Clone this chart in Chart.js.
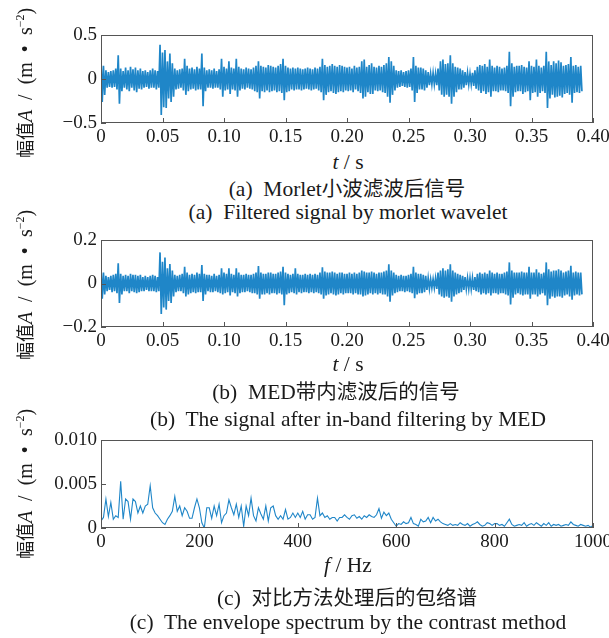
<!DOCTYPE html>
<html>
<head>
<meta charset="utf-8">
<script src="https://cdn.jsdelivr.net/npm/chart.js@4/dist/chart.umd.min.js"></script>
<style>
  body { margin: 0; background: #fff; }
  #page { position: relative; width: 609px; height: 638px; overflow: hidden; background: #fff; }
  canvas { position: absolute; left: 0; }
  .txt {
    position: absolute; white-space: nowrap; color: #1a1a1a;
    font-family: 'Liberation Serif', 'Noto Sans CJK SC', serif;
    font-size: 21.5px; line-height: 1;
    transform: translate(-50%, -50%);
  }
  .cjk { font-family: 'Noto Sans CJK SC', sans-serif; font-size: 20.5px; }
  .ylab {
    position: absolute; white-space: nowrap; color: #1a1a1a;
    font-family: 'Liberation Serif', 'Noto Sans CJK SC', serif;
    font-size: 20px; line-height: 1; left: 24px;
    transform: translate(-50%, -50%) rotate(-90deg);
  }
  .ylab .cjk { font-size: 18px; }
  .ylab sup { font-size: 12px; vertical-align: 8px; }
</style>
</head>
<body>
<div id="page">
  <canvas id="chartA" width="609" height="150" style="top:0px"></canvas>
  <canvas id="chartB" width="609" height="124" style="top:230px"></canvas>
  <canvas id="chartC" width="609" height="125" style="top:430px"></canvas>

  <div class="ylab" style="top:83px"><span class="cjk">幅值</span><i>A</i>&ensp;/&ensp;(m&ensp;•&ensp;s<sup>−2</sup>)</div>
  <div class="ylab" style="top:285px"><span class="cjk">幅值</span><i>A</i>&ensp;/&ensp;(m&ensp;•&ensp;s<sup>−2</sup>)</div>
  <div class="ylab" style="top:484px"><span class="cjk">幅值</span><i>A</i>&ensp;/&ensp;(m&ensp;•&ensp;s<sup>−2</sup>)</div>

  <div class="txt" style="left:348px;top:163px"><i>t</i> / s</div>
  <div class="txt" style="left:347px;top:189px">(a)&nbsp; Morlet<span class="cjk">小波滤波后信号</span></div>
  <div class="txt" style="left:348px;top:213px">(a)&nbsp; Filtered signal by morlet wavelet</div>

  <div class="txt" style="left:348px;top:365px"><i>t</i> / s</div>
  <div class="txt" style="left:336px;top:392px">(b)&nbsp; MED<span class="cjk">带内滤波后的信号</span></div>
  <div class="txt" style="left:348px;top:420px">(b)&nbsp; The signal after in-band filtering by MED</div>

  <div class="txt" style="left:348px;top:566px"><i>f</i> / Hz</div>
  <div class="txt" style="left:347px;top:598px">(c)&nbsp; <span class="cjk">对比方法处理后的包络谱</span></div>
  <div class="txt" style="left:348px;top:623px">(c)&nbsp; The envelope spectrum by the contrast method</div>
</div>

<script>
// sample step of the time signals (s) and of the spectrum (Hz)
const DT = 0.001;
const DF = 5;

// (a) Morlet filtered signal: positive / negative peak per cycle
const sigA_up = [
  0.23,0.15,0.10,0.08,0.09,0.10,0.12,0.27,0.12,0.09,
  0.13,0.10,0.14,0.11,0.13,0.10,0.12,0.09,0.10,0.08,
  0.10,0.12,0.10,0.09,0.39,0.30,0.33,0.20,0.29,0.18,
  0.12,0.10,0.11,0.12,0.23,0.15,0.12,0.13,0.11,0.14,
  0.12,0.29,0.13,0.10,0.11,0.10,0.12,0.09,0.11,0.23,
  0.14,0.12,0.20,0.13,0.12,0.23,0.14,0.12,0.11,0.13,
  0.12,0.11,0.13,0.15,0.20,0.15,0.14,0.13,0.16,0.15,
  0.14,0.13,0.15,0.17,0.23,0.15,0.13,0.12,0.13,0.12,
  0.13,0.12,0.11,0.12,0.13,0.12,0.11,0.13,0.12,0.14,
  0.23,0.16,0.14,0.15,0.17,0.15,0.14,0.16,0.15,0.14,
  0.13,0.14,0.12,0.15,0.13,0.14,0.20,0.22,0.14,0.16,
  0.18,0.14,0.13,0.15,0.14,0.16,0.18,0.25,0.20,0.15,
  0.10,0.09,0.10,0.08,0.09,0.10,0.12,0.25,0.15,0.13,
  0.13,0.12,0.10,0.08,0.06,0.07,0.06,0.12,0.20,0.22,
  0.17,0.18,0.27,0.18,0.14,0.13,0.12,0.10,0.08,0.07,
  0.06,0.07,0.10,0.14,0.16,0.15,0.17,0.14,0.22,0.15,
  0.13,0.15,0.14,0.12,0.13,0.15,0.31,0.18,0.14,0.15,
  0.15,0.16,0.14,0.13,0.20,0.15,0.14,0.22,0.15,0.13,
  0.15,0.31,0.20,0.16,0.20,0.18,0.21,0.19,0.15,0.16,
  0.17,0.25,0.15,0.16,0.14,0.15
];
const sigA_lo = [
  0.26,0.18,0.10,0.09,0.10,0.09,0.12,0.28,0.14,0.10,
  0.12,0.14,0.10,0.13,0.15,0.11,0.12,0.10,0.09,0.11,
  0.10,0.10,0.12,0.10,0.41,0.32,0.33,0.22,0.26,0.20,
  0.12,0.11,0.10,0.13,0.18,0.14,0.12,0.11,0.13,0.12,
  0.12,0.31,0.14,0.10,0.10,0.11,0.10,0.10,0.12,0.20,
  0.13,0.12,0.17,0.12,0.13,0.20,0.13,0.11,0.12,0.10,
  0.11,0.12,0.14,0.15,0.22,0.14,0.15,0.13,0.15,0.14,
  0.13,0.15,0.14,0.16,0.24,0.15,0.14,0.12,0.13,0.12,
  0.12,0.13,0.12,0.11,0.12,0.13,0.12,0.11,0.13,0.15,
  0.24,0.18,0.15,0.14,0.16,0.17,0.15,0.14,0.15,0.13,
  0.14,0.13,0.15,0.12,0.14,0.16,0.22,0.20,0.15,0.17,
  0.17,0.13,0.14,0.13,0.15,0.16,0.20,0.27,0.18,0.13,
  0.10,0.09,0.08,0.09,0.10,0.09,0.13,0.26,0.16,0.12,
  0.12,0.13,0.10,0.07,0.06,0.06,0.07,0.13,0.18,0.20,
  0.18,0.20,0.28,0.20,0.15,0.12,0.12,0.10,0.07,0.06,
  0.06,0.08,0.11,0.13,0.16,0.14,0.17,0.15,0.20,0.14,
  0.14,0.15,0.13,0.13,0.14,0.16,0.31,0.20,0.15,0.14,
  0.14,0.17,0.15,0.14,0.24,0.16,0.15,0.20,0.16,0.14,
  0.16,0.33,0.22,0.18,0.21,0.20,0.19,0.21,0.17,0.16,
  0.18,0.27,0.16,0.15,0.16,0.14
];

// (b) MED in-band filtered signal
const sigB_up = [
  0.070,0.050,0.035,0.030,0.035,0.040,0.045,0.093,0.045,0.035,
  0.040,0.035,0.045,0.040,0.040,0.035,0.040,0.030,0.035,0.030,
  0.035,0.040,0.035,0.030,0.143,0.100,0.120,0.070,0.090,0.060,
  0.040,0.035,0.040,0.045,0.077,0.050,0.040,0.045,0.040,0.050,
  0.045,0.085,0.045,0.040,0.040,0.035,0.045,0.035,0.040,0.070,
  0.050,0.045,0.070,0.045,0.040,0.070,0.050,0.040,0.040,0.045,
  0.040,0.040,0.045,0.050,0.080,0.050,0.045,0.045,0.050,0.050,
  0.045,0.045,0.050,0.055,0.077,0.050,0.045,0.040,0.045,0.070,
  0.045,0.040,0.040,0.045,0.040,0.045,0.040,0.045,0.040,0.050,
  0.074,0.055,0.050,0.050,0.055,0.050,0.045,0.050,0.050,0.045,
  0.045,0.050,0.045,0.050,0.045,0.050,0.060,0.055,0.050,0.050,
  0.055,0.050,0.045,0.050,0.050,0.055,0.060,0.088,0.060,0.050,
  0.040,0.035,0.040,0.035,0.035,0.040,0.045,0.077,0.050,0.045,
  0.045,0.040,0.035,0.025,0.020,0.020,0.025,0.050,0.060,0.070,
  0.060,0.065,0.088,0.060,0.050,0.045,0.040,0.035,0.030,0.025,
  0.025,0.025,0.030,0.045,0.050,0.045,0.050,0.045,0.060,0.050,
  0.045,0.050,0.045,0.045,0.050,0.055,0.097,0.060,0.050,0.050,
  0.050,0.055,0.050,0.050,0.077,0.050,0.050,0.065,0.050,0.045,
  0.050,0.097,0.065,0.055,0.060,0.060,0.065,0.060,0.050,0.055,
  0.060,0.082,0.050,0.055,0.050,0.050
];
const sigB_lo = [
  0.070,0.050,0.035,0.030,0.040,0.035,0.045,0.090,0.050,0.035,
  0.035,0.045,0.035,0.040,0.045,0.040,0.035,0.035,0.030,0.035,
  0.035,0.035,0.040,0.035,0.140,0.110,0.120,0.080,0.090,0.060,
  0.040,0.035,0.035,0.045,0.060,0.050,0.045,0.040,0.045,0.040,
  0.040,0.080,0.050,0.035,0.040,0.040,0.035,0.040,0.045,0.050,
  0.045,0.040,0.055,0.040,0.045,0.060,0.045,0.040,0.040,0.035,
  0.040,0.045,0.045,0.050,0.070,0.050,0.050,0.045,0.050,0.045,
  0.045,0.050,0.045,0.050,0.100,0.050,0.045,0.040,0.045,0.050,
  0.040,0.045,0.040,0.040,0.045,0.040,0.045,0.040,0.045,0.050,
  0.070,0.055,0.050,0.045,0.050,0.055,0.050,0.045,0.050,0.045,
  0.045,0.045,0.050,0.045,0.050,0.050,0.060,0.055,0.050,0.045,
  0.050,0.045,0.050,0.045,0.050,0.050,0.060,0.084,0.055,0.045,
  0.040,0.035,0.035,0.040,0.035,0.040,0.045,0.068,0.050,0.045,
  0.045,0.040,0.030,0.025,0.020,0.020,0.025,0.050,0.060,0.065,
  0.060,0.065,0.084,0.060,0.050,0.045,0.040,0.030,0.025,0.025,
  0.025,0.030,0.035,0.040,0.050,0.045,0.050,0.045,0.055,0.045,
  0.045,0.050,0.045,0.045,0.050,0.055,0.096,0.065,0.050,0.045,
  0.050,0.055,0.050,0.050,0.070,0.050,0.050,0.060,0.050,0.045,
  0.055,0.100,0.070,0.060,0.065,0.060,0.060,0.065,0.055,0.050,
  0.060,0.075,0.055,0.050,0.055,0.050
];

// (c) envelope spectrum, 0..1000 Hz every 5 Hz
const specC = [
  0.0008,0.0012,0.0033,0.0013,0.0029,0.0010,0.0014,0.0012,0.0053,0.0010,
  0.0033,0.0030,0.0010,0.0033,0.0030,0.0017,0.0025,0.0017,0.0025,0.0027,
  0.0048,0.0023,0.0017,0.0014,0.0010,0.0006,0.0004,0.0010,0.0014,0.0019,
  0.0036,0.0019,0.0025,0.0014,0.0023,0.0019,0.0011,0.0011,0.0023,0.0033,
  0.0023,0.0006,0.0000,0.0023,0.0023,0.0011,0.0025,0.0014,0.0027,0.0006,
  0.0014,0.0017,0.0032,0.0023,0.0015,0.0027,0.0012,0.0025,0.0002,0.0025,
  0.0014,0.0034,0.0014,0.0008,0.0023,0.0016,0.0010,0.0025,0.0008,0.0023,
  0.0025,0.0014,0.0010,0.0014,0.0010,0.0021,0.0010,0.0012,0.0017,0.0012,
  0.0017,0.0012,0.0019,0.0010,0.0015,0.0015,0.0010,0.0012,0.0034,0.0014,
  0.0017,0.0012,0.0014,0.0010,0.0012,0.0012,0.0008,0.0012,0.0012,0.0015,
  0.0012,0.0010,0.0014,0.0015,0.0011,0.0013,0.0010,0.0014,0.0012,0.0015,
  0.0013,0.0012,0.0015,0.0022,0.0011,0.0018,0.0014,0.0017,0.0010,0.0006,
  0.0002,0.0005,0.0004,0.0007,0.0005,0.0006,0.0012,0.0005,0.0004,0.0002,
  0.0010,0.0007,0.0008,0.0012,0.0006,0.0012,0.0008,0.0010,0.0007,0.0005,
  0.0004,0.0003,0.0005,0.0003,0.0004,0.0003,0.0006,0.0004,0.0003,0.0005,
  0.0002,0.0004,0.0005,0.0007,0.0004,0.0002,0.0003,0.0006,0.0005,0.0003,
  0.0005,0.0005,0.0003,0.0004,0.0002,0.0006,0.0010,0.0004,0.0002,0.0003,
  0.0004,0.0003,0.0006,0.0002,0.0004,0.0005,0.0003,0.0006,0.0004,0.0002,
  0.0005,0.0003,0.0006,0.0002,0.0004,0.0003,0.0004,0.0002,0.0003,0.0004,
  0.0003,0.0007,0.0004,0.0003,0.0002,0.0004,0.0003,0.0002,0.0003,0.0001,
  0.0003
];

const BLUE = '#1f86c8';
const FONT = 'Liberation Serif';
const TXT = '#1a1a1a';
const FRAME = '#555';

Chart.defaults.font.family = FONT;

// interleave positive and negative peaks into one oscillating trace
function signalPoints(up, lo) {
  const pts = [];
  up.forEach((u, k) => {
    pts.push({ x: 2 * k * DT, y: u });
    pts.push({ x: (2 * k + 1) * DT, y: -lo[k] });
  });
  return pts;
}

function fmt(v, digits) {
  if (Math.abs(v) < 1e-12) return '0';
  return (v < 0 ? '\u2212' : '') + Math.abs(v).toFixed(digits);
}

// box around the plot plus short inward tick marks
const boxPlugin = {
  id: 'box',
  afterDraw(chart) {
    const { ctx, chartArea: a, scales } = chart;
    ctx.save();
    ctx.strokeStyle = FRAME;
    ctx.lineWidth = 1;
    ctx.strokeRect(a.left + 0.5, a.top + 0.5, a.right - a.left - 1, a.bottom - a.top - 1);
    ctx.beginPath();
    scales.x.ticks.forEach(t => {
      const px = Math.round(scales.x.getPixelForValue(t.value)) + 0.5;
      ctx.moveTo(px, a.bottom);
      ctx.lineTo(px, a.bottom - 5);
    });
    scales.y.ticks.forEach(t => {
      const py = Math.round(scales.y.getPixelForValue(t.value)) + 0.5;
      ctx.moveTo(a.left, py);
      ctx.lineTo(a.left + 5, py);
    });
    ctx.stroke();
    ctx.restore();
  }
};

function makePanel(id, points, xs, ys, padTop, lineW) {
  const ctx = document.getElementById(id).getContext('2d');
  return new Chart(ctx, {
    type: 'line',
    data: {
      datasets: [{
        data: points,
        borderColor: BLUE,
        borderWidth: lineW,
        borderJoinStyle: 'miter',
        pointRadius: 0,
        tension: 0,
        fill: false
      }]
    },
    options: {
      responsive: false,
      animation: false,
      layout: { padding: { top: padTop, right: 16, left: 0, bottom: 0 } },
      plugins: { legend: { display: false }, tooltip: { enabled: false } },
      scales: {
        x: {
          type: 'linear', min: xs.min, max: xs.max,
          grid: { display: false, drawTicks: false },
          border: { display: false },
          ticks: {
            stepSize: xs.step, autoSkip: false, maxRotation: 0, padding: 3,
            color: TXT, font: { family: FONT, size: 19 },
            callback: v => fmt(v, xs.digits)
          },
          afterFit: s => { s.height = 27; s.paddingLeft = 0; s.paddingRight = 0; }
        },
        y: {
          min: ys.min, max: ys.max,
          grid: { display: false, drawTicks: false },
          border: { display: false },
          ticks: {
            stepSize: ys.step, padding: 4,
            color: TXT, font: { family: FONT, size: 19 },
            callback: v => fmt(v, ys.digits)
          },
          afterFit: s => { s.width = 101; s.paddingTop = 0; s.paddingBottom = 0; }
        }
      }
    },
    plugins: [boxPlugin]
  });
}

makePanel('chartA', signalPoints(sigA_up, sigA_lo),
  { min: 0, max: 0.4, step: 0.05, digits: 2 },
  { min: -0.5, max: 0.5, step: 0.5, digits: 1 }, 35, 1.7);

makePanel('chartB', signalPoints(sigB_up, sigB_lo),
  { min: 0, max: 0.4, step: 0.05, digits: 2 },
  { min: -0.2, max: 0.2, step: 0.2, digits: 1 }, 10, 1.7);

makePanel('chartC', specC.map((v, i) => ({ x: i * DF, y: v })),
  { min: 0, max: 1000, step: 200, digits: 0 },
  { min: 0, max: 0.01, step: 0.005, digits: 3 }, 10, 1.1);
</script>
</body>
</html>
